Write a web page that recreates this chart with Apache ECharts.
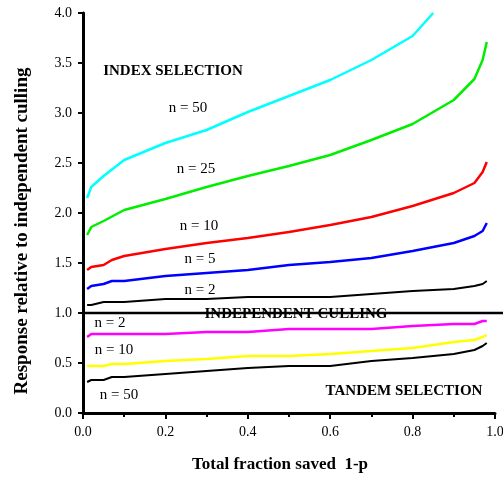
<!DOCTYPE html>
<html>
<head>
<meta charset="utf-8">
<script src="https://cdn.jsdelivr.net/npm/echarts@6/dist/echarts.min.js"></script>
<style>html,body{margin:0;padding:0;background:#fff;}#c{width:503px;height:480px;}</style>
</head>
<body>
<div id="c"></div>
<script>
// Data
var xGrid = [0.01,0.02,0.05,0.07,0.1,0.2,0.3,0.4,0.5,0.6,0.7,0.8,0.9,0.95,0.97,0.98];
var xIndex50 = [0.01,0.02,0.05,0.1,0.2,0.3,0.4,0.5,0.6,0.7,0.8,0.85];
var index50 = [2.15,2.26,2.37,2.53,2.70,2.83,3.01,3.17,3.33,3.53,3.77,4.0];
var xIndex25 = [0.01,0.02,0.05,0.1,0.2,0.3,0.4,0.5,0.6,0.7,0.8,0.9,0.95,0.97,0.98];
var index25 = [1.78,1.86,1.92,2.03,2.14,2.26,2.37,2.47,2.58,2.73,2.89,3.13,3.34,3.53,3.71];
var index10 = [1.43,1.46,1.48,1.53,1.57,1.64,1.70,1.75,1.81,1.88,1.96,2.07,2.20,2.30,2.41,2.51];
var index5  = [1.24,1.27,1.29,1.32,1.32,1.37,1.40,1.43,1.48,1.51,1.55,1.62,1.70,1.77,1.82,1.90];
var index2  = [1.08,1.08,1.11,1.11,1.11,1.14,1.14,1.16,1.16,1.16,1.19,1.22,1.24,1.27,1.29,1.32];
var tandem2  = [0.76,0.79,0.79,0.79,0.79,0.79,0.81,0.81,0.84,0.84,0.84,0.87,0.89,0.89,0.92,0.92];
var tandem10 = [0.47,0.47,0.47,0.49,0.49,0.52,0.54,0.57,0.57,0.59,0.62,0.65,0.71,0.73,0.76,0.78];
var tandem50 = [0.31,0.33,0.33,0.36,0.36,0.39,0.42,0.45,0.47,0.47,0.52,0.55,0.59,0.63,0.67,0.70];
var independentLevel = 1.0;
var yTicks = [0,0.5,1,1.5,2,2.5,3,3.5,4];
var xTicks = [0,0.2,0.4,0.6,0.8,1.0];
var xTitle = 'Total fraction saved  1-p';
var yTitle = 'Response relative to independent culling';

function pairs(xs, ys){ return xs.map(function(x,i){ return [x, ys[i]]; }); }

var FONT = '"Liberation Serif", "Times New Roman", serif';
var chart = echarts.init(document.getElementById('c'));

function mkSeries(name, data, color, w){
  return {name:name, type:'line', data:data, symbol:'none', smooth:false,
          lineStyle:{color:color, width:w}, itemStyle:{color:color}, animation:false, z:3};
}

var option = {
  animation:false,
  backgroundColor:'#fff',
  grid:{left:83, top:13, width:412, height:400, containLabel:false, outerBoundsMode:'none'},
  xAxis:{
    type:'value', min:0, max:1, interval:0.2,
    axisLine:{show:true, onZero:false, lineStyle:{color:'#000', width:3}},
    axisTick:{show:true, inside:false, length:6, lineStyle:{color:'#000', width:2}},
    minorTick:{show:true, splitNumber:2, length:4, lineStyle:{color:'#000', width:2}},
    splitLine:{show:false},
    axisLabel:{fontFamily:FONT, fontSize:14, color:'#000', margin:12,
      formatter:function(v){ return v.toFixed(1); }}
  },
  yAxis:{
    type:'value', min:0, max:4, interval:0.5,
    axisLine:{show:true, onZero:false, lineStyle:{color:'#000', width:3}},
    axisTick:{show:true, inside:false, length:5, lineStyle:{color:'#000', width:2}},
    splitLine:{show:false},
    axisLabel:{fontFamily:FONT, fontSize:14, color:'#000', margin:11,
      formatter:function(v){ return v.toFixed(1); }}
  },
  series:[
    mkSeries('index n=50', pairs(xIndex50, index50), '#00FFFF', 2.5),
    mkSeries('index n=25', pairs(xIndex25, index25), '#00EE00', 2.5),
    mkSeries('index n=10', pairs(xGrid, index10), '#FF0000', 2.5),
    mkSeries('index n=5', pairs(xGrid, index5), '#0000FF', 2.5),
    mkSeries('index n=2', pairs(xGrid, index2), '#000000', 2),
    mkSeries('tandem n=2', pairs(xGrid, tandem2), '#FF00FF', 2.5),
    mkSeries('tandem n=10', pairs(xGrid, tandem10), '#FFFF00', 2.5),
    mkSeries('tandem n=50', pairs(xGrid, tandem50), '#000000', 2)
  ]
};
chart.setOption(option);

var p0 = chart.convertToPixel({gridIndex:0}, [0, independentLevel]);
function txt(t, x, y, bold, size, rot){
  return {type:'text', x:x, y:y, z:10, rotation:rot||0,
    style:{text:t, x:0, y:0, textAlign:'center', textVerticalAlign:'middle',
      font:(bold?'bold ':'') + size + 'px ' + FONT, fill:'#000'}};
}
chart.setOption({graphic:[
  {type:'line', z:5, shape:{x1:p0[0], y1:p0[1], x2:503, y2:p0[1]}, style:{stroke:'#000', lineWidth:2.5}},
  txt(xTitle, 280, 465, true, 17),
  txt(yTitle, 22, 231, true, 19, Math.PI/2),
  txt('INDEX SELECTION', 173, 71, true, 15),
  txt('n = 50', 188, 108, false, 15),
  txt('n = 25', 196, 169, false, 15),
  txt('n = 10', 199, 226, false, 15),
  txt('n = 5', 200, 259, false, 15),
  txt('n = 2', 200, 290, false, 15),
  txt('INDEPENDENT CULLING', 296, 314, true, 15),
  txt('n = 2', 110, 323, false, 15),
  txt('n = 10', 114, 350, false, 15),
  txt('n = 50', 119, 395, false, 15),
  txt('TANDEM SELECTION', 404, 391, true, 15)
]});
</script>
</body>
</html>
